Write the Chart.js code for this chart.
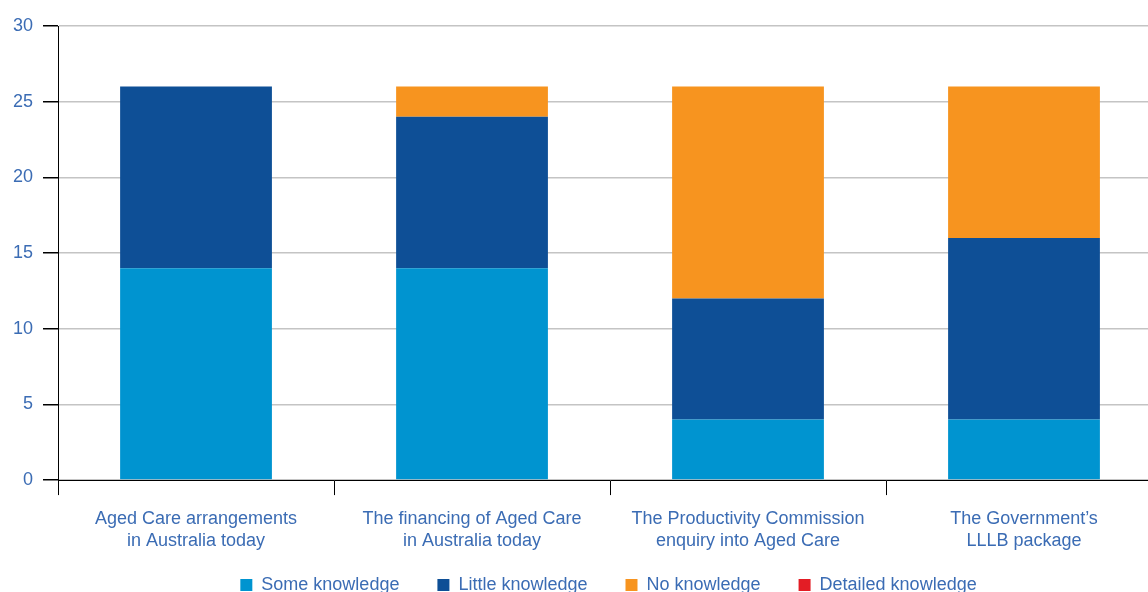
<!DOCTYPE html>
<html>
<head>
<meta charset="utf-8">
<script src="https://cdn.jsdelivr.net/npm/chart.js@4.4.1/dist/chart.umd.min.js"></script>
<style>
  html, body { margin: 0; padding: 0; background: #fff; overflow: hidden; }
  #wrap { position: absolute; left: 0; top: 0; width: 1214px; height: 631px; }
</style>
</head>
<body>
<div id="wrap"><canvas id="knowledgeChart"></canvas></div>
<script>
var categories = [
    ["Aged Care arrangements", "in Australia today"],
    ["The financing of Aged Care", "in Australia today"],
    ["The Productivity Commission", "enquiry into Aged Care"],
    ["The Government\u2019s", "LLLB package"]
];
var someKnowledge = [14, 14, 4, 4];
var littleKnowledge = [12, 10, 8, 12];
var noKnowledge = [0, 2, 14, 10];
var detailedKnowledge = [0, 0, 0, 0];
var yTicks = [0, 5, 10, 15, 20, 25, 30];

var textBlue = "#3b6cb4";
var fnt = { family: "'Liberation Sans', Arial, sans-serif", size: 18, lineHeight: 1.22 };

var ds = function(label, data, color) {
    return {
        label: label,
        data: data,
        backgroundColor: color,
        borderWidth: 0,
        barPercentage: 0.55,
        categoryPercentage: 1
    };
};

// pull the legend up closer to the category labels
var legendLift = {
    id: "legendLift",
    afterLayout: function(chart) {
        chart.legend.top -= 27;
        chart.legend.bottom -= 27;
    }
};

new Chart(document.getElementById("knowledgeChart"), {
    type: "bar",
    data: {
        labels: categories,
        datasets: [
            ds("Some knowledge", someKnowledge, "#0094d0"),
            ds("Little knowledge", littleKnowledge, "#0e4f96"),
            ds("No knowledge", noKnowledge, "#f7941f"),
            ds("Detailed knowledge", detailedKnowledge, "#e31d25")
        ]
    },
    plugins: [legendLift],
    options: {
        responsive: true,
        maintainAspectRatio: false,
        animation: false,
        layout: { padding: { left: 3, top: 26, right: 0, bottom: 0 } },
        plugins: {
            tooltip: { enabled: false },
            legend: {
                position: "bottom",
                labels: {
                    boxWidth: 12,
                    boxHeight: 12,
                    padding: 38,
                    color: textBlue,
                    font: fnt
                }
            }
        },
        scales: {
            x: {
                stacked: true,
                offset: true,
                grid: {
                    offset: true,
                    drawOnChartArea: false,
                    drawTicks: true,
                    tickLength: 15,
                    tickColor: "#000",
                    tickWidth: 1
                },
                border: { color: "#000", width: 1 },
                ticks: { color: textBlue, font: fnt, padding: 13, maxRotation: 0 }
            },
            y: {
                stacked: true,
                min: 0,
                max: 30,
                afterBuildTicks: function(s) {
                    s.ticks = yTicks.map(function(v) { return { value: v }; });
                },
                grid: {
                    color: "#c4c4c4",
                    lineWidth: 1.5,
                    tickLength: 15,
                    tickColor: "#000"
                },
                border: { color: "#000", width: 1 },
                ticks: { color: textBlue, font: fnt, padding: 10 }
            },
            pad: {
                position: "right",
                grid: { display: false },
                border: { display: false },
                ticks: { display: false },
                afterFit: function(s) { s.width = 52; }
            }
        }
    }
});
</script>
</body>
</html>
